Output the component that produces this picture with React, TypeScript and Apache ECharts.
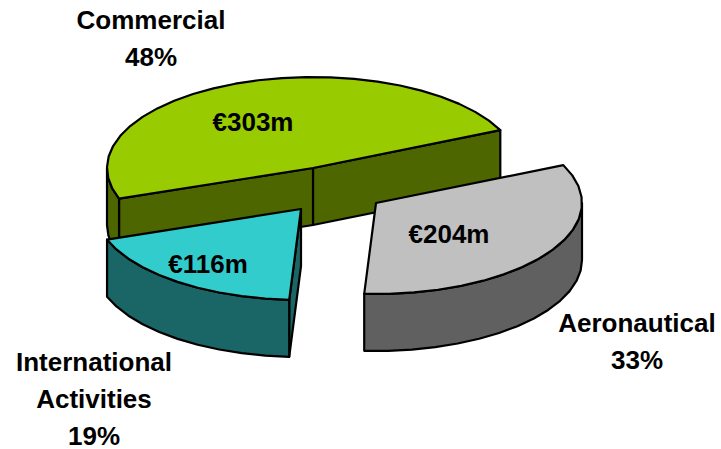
import React, { useEffect, useRef } from "react";
import * as echarts from "echarts";

const categories = ["Commercial", "International Activities", "Aeronautical"];
const amounts = [303, 116, 204];
const sharesText = ["48%", "19%", "33%"];
const labelLines = [["Commercial"], ["International", "Activities"], ["Aeronautical"]];

const topColors = ["#99CC00", "#33CCCC", "#C0C0C0"];
const sideColors = ["#4D6600", "#1A6666", "#606060"];

const WIDTH = 721;
const HEIGHT = 449;
const RX = 206;
const RY = 91;
const DEPTH = 57;
const START_ANGLE = 24.6;
const ARC_STEP = 7;
const LINE_GAP = 37;
const FONT = "bold 26px 'Liberation Sans', Arial, sans-serif";

const apexes = [
  [313, 168],
  [301, 209],
  [376, 203],
];
const valueLabelAt = [
  [253, 122],
  [208, 264],
  [449, 234],
];
const firstLineAt = [
  [151, 20],
  [94, 361.5],
  [637, 323],
];

const total = amounts.reduce((a, b) => a + b, 0);

function rim(cx: number, cy: number, from: number, to: number, dy = 0) {
  const pts: number[][] = [];
  const n = Math.max(1, Math.ceil((to - from) / ARC_STEP));
  for (let i = 0; i <= n; i++) {
    const t = ((from + ((to - from) * i) / n) * Math.PI) / 180;
    pts.push([cx + RX * Math.cos(t), cy - RY * Math.sin(t) + dy]);
  }
  return pts;
}

function poly(points: number[][], fill: string) {
  return {
    type: "polygon",
    shape: { points },
    style: { fill, stroke: "#000", lineWidth: 2.2, lineJoin: "round" },
  };
}

function text(str: string, x: number, y: number) {
  return {
    type: "text",
    style: {
      text: str,
      x,
      y,
      font: FONT,
      fill: "#000",
      align: "center",
      verticalAlign: "middle",
    },
  };
}

function renderItem(params: any, api: any) {
  const i = params.dataIndex;
  const value = api.value(0);
  const before = amounts.slice(0, i).reduce((a, b) => a + b, 0);
  const from = START_ANGLE + (before / total) * 360;
  const to = from + (value / total) * 360;
  const [cx, cy] = apexes[i];
  const side = sideColors[i];
  const children: any[] = [];

  const edge = (deg: number) => {
    const t = (deg * Math.PI) / 180;
    return [cx + RX * Math.cos(t), cy - RY * Math.sin(t)];
  };
  const face = (deg: number) => {
    const p = edge(deg);
    return poly(
      [
        [cx, cy],
        p,
        [p[0], p[1] + DEPTH],
        [cx, cy + DEPTH],
      ],
      side
    );
  };

  // cut faces that turn towards the viewer
  if (Math.sin(((from - 90) * Math.PI) / 180) < 0) children.push(face(from));
  if (Math.sin(((to + 90) * Math.PI) / 180) < 0) children.push(face(to));

  // outer wall on the front half of the rim
  const a = Math.max(from, 180);
  const b = Math.min(to, 360);
  if (b > a) {
    const upper = rim(cx, cy, a, b);
    const lower = rim(cx, cy, a, b, DEPTH).reverse();
    children.push(poly(upper.concat(lower), side));
  }

  // top surface
  children.push(poly([[cx, cy], ...rim(cx, cy, from, to)], topColors[i]));

  children.push(text(`€${value}m`, valueLabelAt[i][0], valueLabelAt[i][1]));
  [...labelLines[i], sharesText[i]].forEach((line, k) => {
    children.push(text(line, firstLineAt[i][0], firstLineAt[i][1] + k * LINE_GAP));
  });

  return { type: "group", children };
}

export default function App() {
  const ref = useRef<HTMLDivElement>(null);

  useEffect(() => {
    const chart = echarts.init(ref.current!, null, { renderer: "svg" });
    chart.setOption({
      animation: false,
      backgroundColor: "#fff",
      series: [
        {
          type: "custom",
          coordinateSystem: "none",
          silent: true,
          clip: false,
          renderItem,
          data: categories.map((name, i) => ({ name, value: [amounts[i]] })),
        },
      ],
    });
    return () => chart.dispose();
  }, []);

  return (
    <div
      ref={ref}
      style={{ position: "absolute", left: 0, top: 0, width: WIDTH, height: HEIGHT }}
    />
  );
}
